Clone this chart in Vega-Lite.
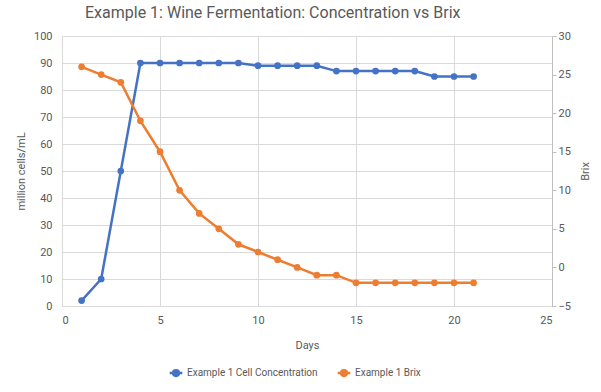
{
  "$schema": "https://vega.github.io/schema/vega-lite/v6.json",
  "width": 490,
  "height": 270,
  "autosize": {"type": "none"},
  "padding": {"left": 62, "top": 36, "right": 49, "bottom": 86},
  "background": "white",
  "title": {
    "text": "Example 1: Wine Fermentation: Concentration vs Brix",
    "anchor": "start",
    "frame": "group",
    "dx": 23,
    "offset": 9,
    "font": "Roboto",
    "fontSize": 16,
    "fontWeight": "normal",
    "color": "#595959"
  },
  "config": {
    "view": {"stroke": null},
    "font": "Roboto",
    "axis": {
      "labelFont": "Roboto",
      "labelFontSize": 11,
      "labelColor": "#595959",
      "titleFont": "Roboto",
      "titleFontSize": 11,
      "titleFontWeight": "normal",
      "titleColor": "#595959",
      "gridColor": "#d9d9d9",
      "gridWidth": 1,
      "domainColor": "#bfbfbf",
      "tickColor": "#bfbfbf"
    },
    "legend": {
      "labelFont": "Roboto",
      "labelFontSize": 10,
      "labelColor": "#595959"
    }
  },
  "data": {
    "values": [
      {"day": 1, "cell": 2, "brix": 26},
      {"day": 2, "cell": 10, "brix": 25},
      {"day": 3, "cell": 50, "brix": 24},
      {"day": 4, "cell": 90, "brix": 19},
      {"day": 5, "cell": 90, "brix": 15},
      {"day": 6, "cell": 90, "brix": 10},
      {"day": 7, "cell": 90, "brix": 7},
      {"day": 8, "cell": 90, "brix": 5},
      {"day": 9, "cell": 90, "brix": 3},
      {"day": 10, "cell": 89, "brix": 2},
      {"day": 11, "cell": 89, "brix": 1},
      {"day": 12, "cell": 89, "brix": 0},
      {"day": 13, "cell": 89, "brix": -1},
      {"day": 14, "cell": 87, "brix": -1},
      {"day": 15, "cell": 87, "brix": -2},
      {"day": 16, "cell": 87, "brix": -2},
      {"day": 17, "cell": 87, "brix": -2},
      {"day": 18, "cell": 87, "brix": -2},
      {"day": 19, "cell": 85, "brix": -2},
      {"day": 20, "cell": 85, "brix": -2},
      {"day": 21, "cell": 85, "brix": -2}
    ]
  },
  "encoding": {
    "x": {
      "field": "day",
      "type": "quantitative",
      "scale": {"domain": [0, 25], "nice": false},
      "axis": {
        "title": "Days",
        "values": [0, 5, 10, 15, 20, 25],
        "ticks": false,
        "labelPadding": 8,
        "titlePadding": 14,
        "grid": true,
        "domainColor": "#d9d9d9"
      }
    }
  },
  "layer": [
    {
      "mark": {"type": "line", "strokeWidth": 2.5, "point": {"size": 45, "filled": true}},
      "encoding": {
        "y": {
          "field": "cell",
          "type": "quantitative",
          "scale": {"domain": [0, 100], "nice": false},
          "axis": {
            "title": "million cells/mL",
            "values": [0, 10, 20, 30, 40, 50, 60, 70, 80, 90, 100],
            "domain": false,
            "ticks": false,
            "labelPadding": 10,
            "titlePadding": 7,
            "grid": true
          }
        },
        "color": {
          "datum": "Example 1 Cell Concentration",
          "scale": {
            "domain": ["Example 1 Cell Concentration", "Example 1 Brix"],
            "range": ["#4472C4", "#ED7D31"]
          },
          "legend": {
            "title": null,
            "orient": "none",
            "direction": "horizontal",
            "legendX": 106,
            "legendY": 329,
            "symbolType": "M-1,0L1,0M-0.45,0A0.45,0.45,0,1,0,0.45,0A0.45,0.45,0,1,0,-0.45,0Z",
            "symbolSize": 160,
            "symbolStrokeWidth": 2.5,
            "columnPadding": 14,
            "labelOffset": 3
          }
        }
      }
    },
    {
      "mark": {"type": "line", "strokeWidth": 2.5, "point": {"size": 45, "filled": true}},
      "encoding": {
        "y": {
          "field": "brix",
          "type": "quantitative",
          "scale": {"domain": [-5, 30], "nice": false},
          "axis": {
            "title": "Brix",
            "orient": "right",
            "values": [-5, 0, 5, 10, 15, 20, 25, 30],
            "grid": false,
            "domain": true,
            "ticks": true,
            "tickSize": 4,
            "labelPadding": 2,
            "titlePadding": 20,
            "titleAngle": 270
          }
        },
        "color": {"datum": "Example 1 Brix"}
      }
    }
  ],
  "resolve": {"scale": {"y": "independent"}}
}
